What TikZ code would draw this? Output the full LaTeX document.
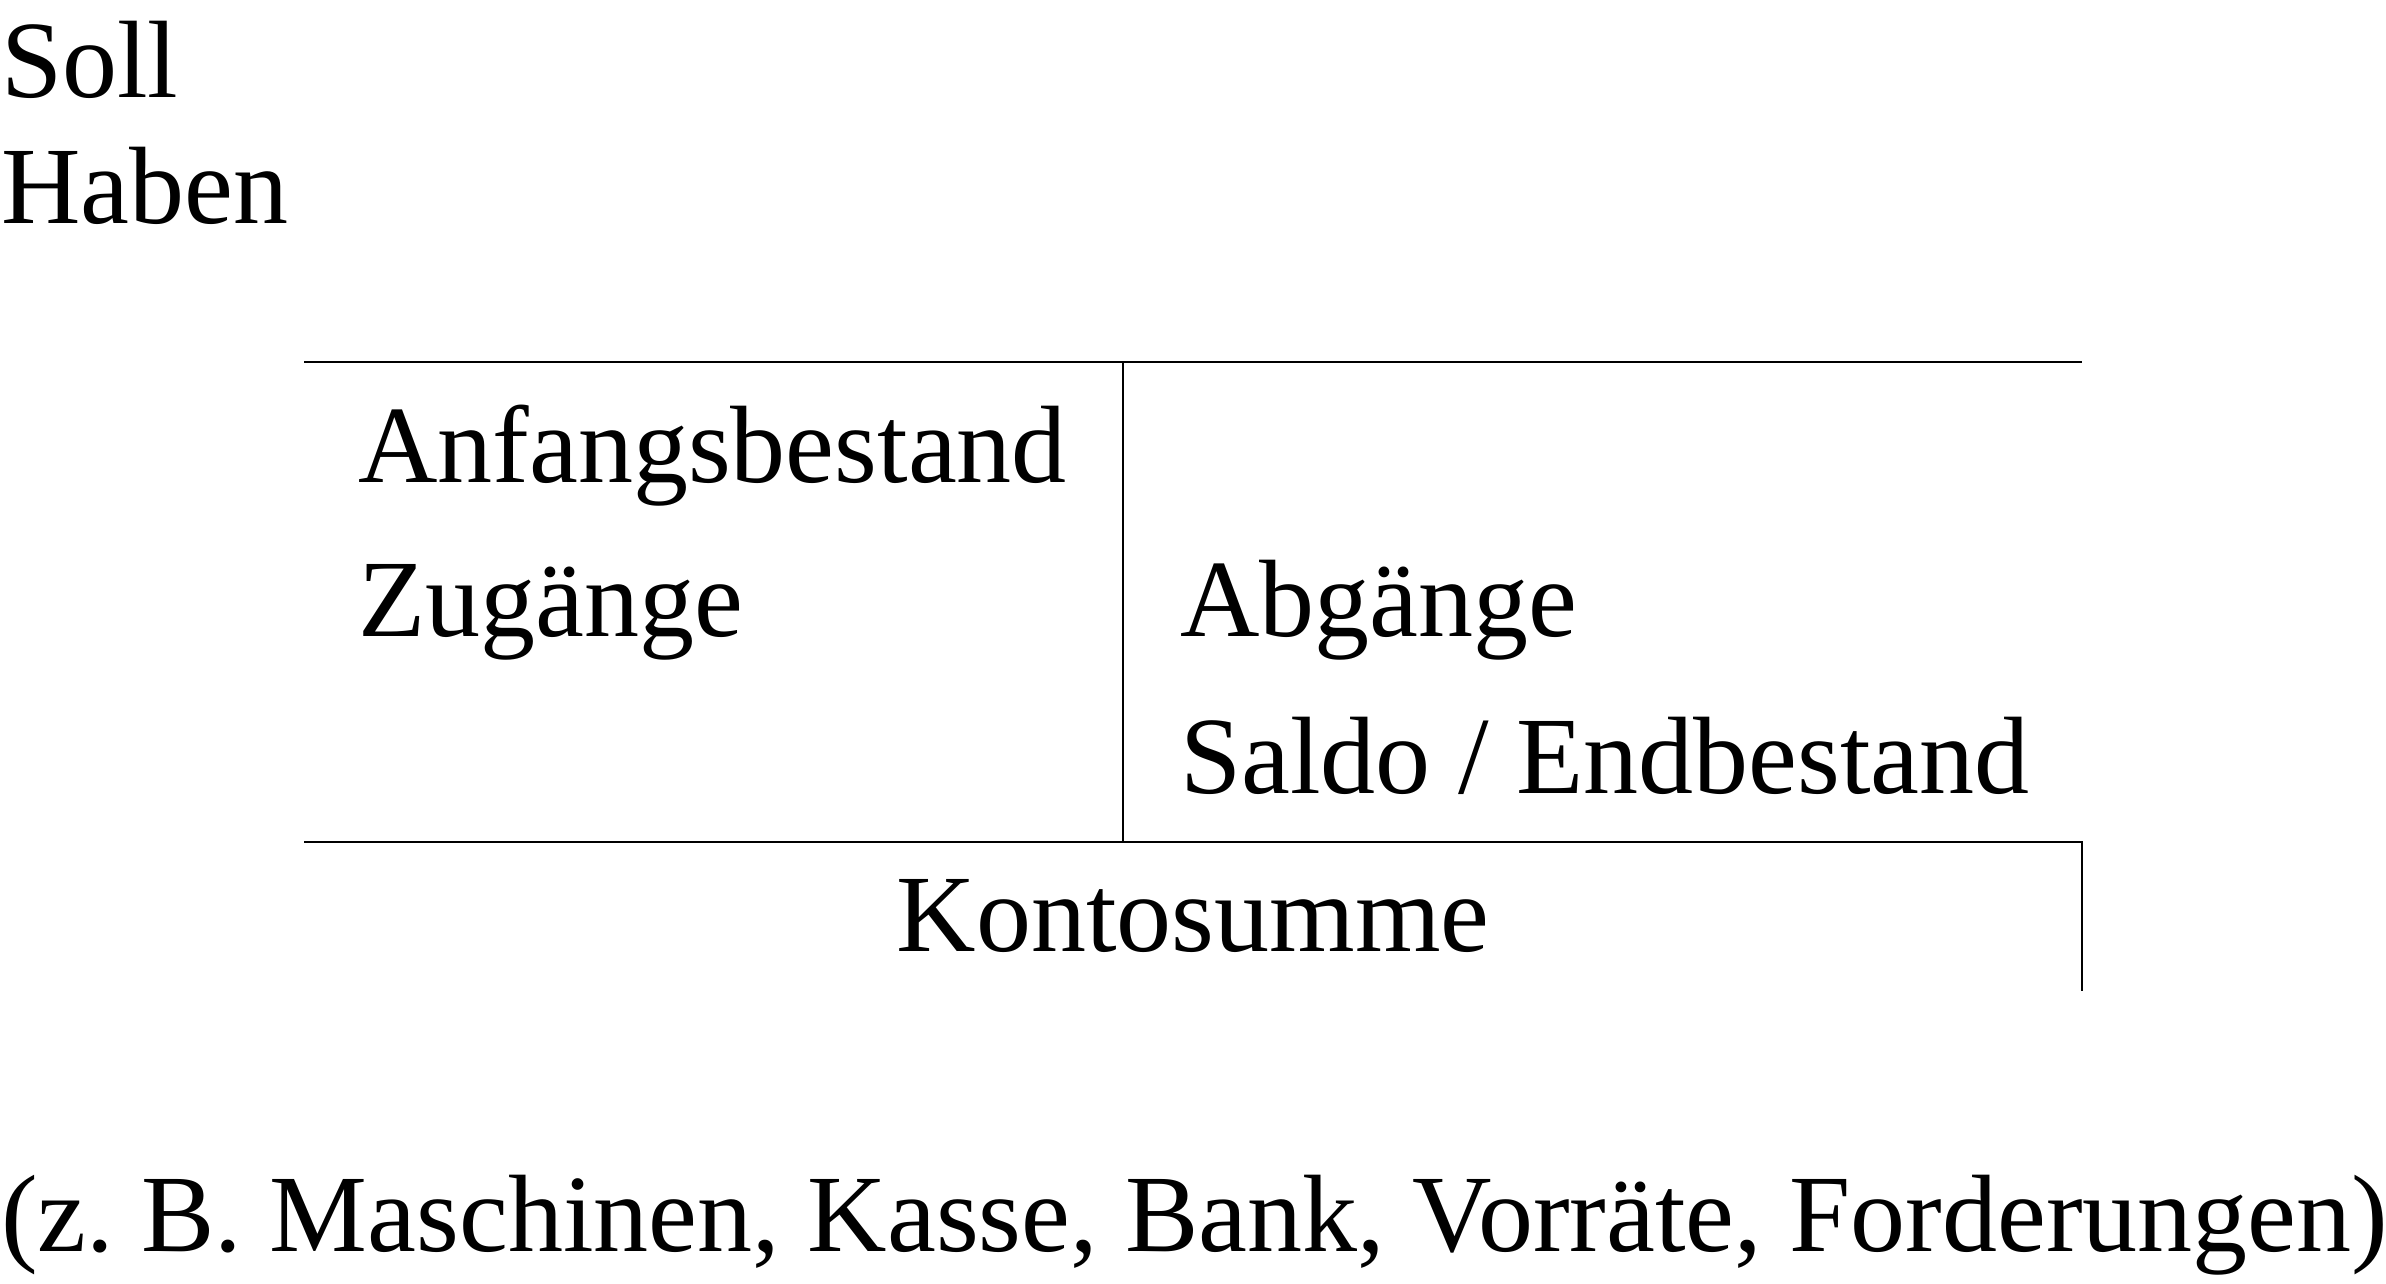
\documentclass[tikz,border=0pt]{standalone}
\usepackage{fontspec}
\setmainfont{Liberation Serif}[Ligatures=TeX]
\newfontfamily\kontofont{Liberation Serif}
\usepackage{tikz}
\usetikzlibrary{positioning}

\tikzset{
    label text/.style={anchor=base west, inner sep=0pt, font=\kontofont\fontsize{20}{24}\selectfont\frenchspacing},
    account line/.style={draw, line width=0.4pt}
}

\begin{document}
\begin{tikzpicture}[x=0.1818pt, y=-0.1818pt]

    \useasboundingbox (0,0) rectangle (2386,1284);

    % heading
    \node[label text] (soll) at (0,98) {Soll};
    \node[label text] (haben) at (0,223) {Haben};

    % the account frame
    \coordinate (topleft) at (304,362);
    \coordinate (topright) at (2082,362);
    \coordinate (topmid) at (1123,362);
    \coordinate (botleft) at (304,842);
    \coordinate (botmid) at (1123,842);
    \coordinate (botright) at (2082,842);
    \coordinate (sumend) at (2082,991);
    \path[account line] (topleft) -- (topright);
    \path[account line] (topmid) -- (botmid);
    \path[account line] (botleft) -- (botright) -- (sumend);

    % entries
    \node[label text] (anfang) at (357,482) {Anfangsbestand};
    \node[label text] (zugang) at (357,636) {Zugänge};
    \node[label text] (abgang) at (1179,636) {Abgänge};
    \node[label text] (saldo) at (1179,793) {Saldo / Endbestand};
    \node[label text, anchor=base] (summe) at (1193,951) {Kontosumme};

    % examples
    \node[label text] (beispiel) at (0,1251) {(z. B. Maschinen, Kasse, Bank, Vorräte, Forderungen)};

\end{tikzpicture}
\end{document}
